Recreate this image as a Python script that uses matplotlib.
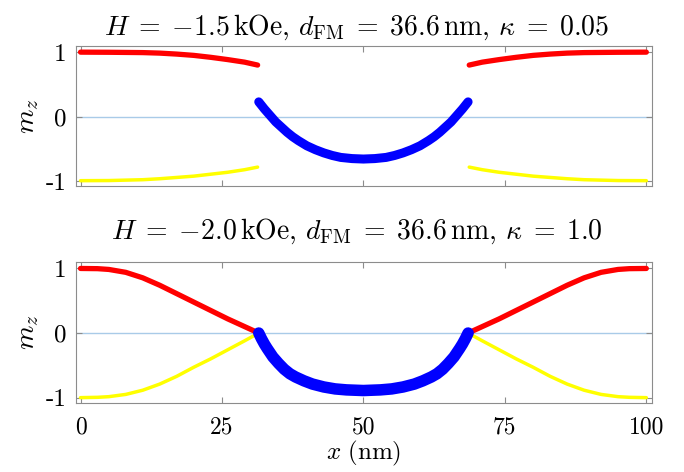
import matplotlib
matplotlib.use("Agg")
import matplotlib.pyplot as plt

plt.rcParams['mathtext.fontset'] = 'cm'
plt.rcParams['font.family'] = 'serif'
plt.rcParams['font.serif'] = ['cmr10', 'Liberation Serif', 'DejaVu Serif']
plt.rcParams['axes.unicode_minus'] = False

## Panel 1: H = -1.5 kOe, kappa = 0.05
x1_left = [0, 5, 11, 14, 17, 20, 23, 26, 29, 31.3]
red1_left = [1.00, 0.998, 0.993, 0.985, 0.97, 0.95, 0.92, 0.885, 0.845, 0.80]
yel1_left = [-0.99, -0.988, -0.975, -0.96, -0.94, -0.92, -0.89, -0.86, -0.82, -0.78]
x1_right = [68.7, 71, 74, 77, 80, 83, 86, 89, 95, 100]
red1_right = [0.80, 0.845, 0.885, 0.92, 0.95, 0.97, 0.985, 0.993, 0.998, 1.00]
yel1_right = [-0.78, -0.82, -0.86, -0.89, -0.92, -0.94, -0.96, -0.975, -0.988, -0.99]
x1_mid = [31.5, 32.5, 33.5, 34.5, 35.5, 36.5, 37.5, 38.5, 40, 41.5, 43, 44.5, 46, 48, 50,
          52, 54, 55.5, 57, 58.5, 60, 61.5, 62.5, 63.5, 64.5, 65.5, 66.5, 67.5, 68.5]
blue1_mid = [0.23, 0.12, 0.02, -0.08, -0.16, -0.24, -0.31, -0.37, -0.45, -0.51, -0.56,
             -0.60, -0.63, -0.648, -0.655,
             -0.648, -0.63, -0.60, -0.56, -0.51, -0.45, -0.37, -0.31, -0.24, -0.16,
             -0.08, 0.02, 0.12, 0.23]

## Panel 2: H = -2.0 kOe, kappa = 1.0
x2_left = [0, 3, 5, 8, 11, 14, 17, 20, 23, 26, 29, 31.5]
red2_left = [1.00, 0.997, 0.985, 0.94, 0.855, 0.74, 0.61, 0.48, 0.35, 0.22, 0.10, 0.0]
yel2_left = [-1.00, -0.995, -0.985, -0.95, -0.885, -0.79, -0.67, -0.53, -0.40, -0.26, -0.12, 0.0]
x2_right = [68.5, 71, 74, 77, 80, 83, 86, 89, 92, 95, 97, 100]
red2_right = [0.0, 0.10, 0.22, 0.35, 0.48, 0.61, 0.74, 0.855, 0.94, 0.985, 0.997, 1.00]
yel2_right = [0.0, -0.12, -0.26, -0.40, -0.53, -0.67, -0.79, -0.885, -0.95, -0.985, -0.995, -1.00]
x2_mid = [31.5, 32, 32.5, 33, 34, 35, 36, 37, 38, 39.5, 41, 43, 45, 47, 50,
          53, 55, 57, 59, 60.5, 62, 63, 64, 65, 66, 67, 67.5, 68, 68.5]
blue2_mid = [0.0, -0.09, -0.17, -0.24, -0.37, -0.47, -0.56, -0.63, -0.68, -0.74, -0.79,
             -0.835, -0.865, -0.88, -0.89,
             -0.88, -0.865, -0.835, -0.79, -0.74, -0.68, -0.63, -0.56, -0.47, -0.37,
             -0.24, -0.17, -0.09, 0.0]

titles = [r'$H\;=\;{-}1.5\,\mathrm{kOe},\,d_{\mathrm{FM}}\;=\;36.6\,\mathrm{nm},\,\kappa\;=\;0.05$',
          r'$H\;=\;{-}2.0\,\mathrm{kOe},\,d_{\mathrm{FM}}\;=\;36.6\,\mathrm{nm},\,\kappa\;=\;1.0$']
x_ticks = [0, 25, 50, 75, 100]
y_ticks = [-1, 0, 1]

panels = [
    (x1_left, red1_left, yel1_left, x1_right, red1_right, yel1_right, x1_mid, blue1_mid),
    (x2_left, red2_left, yel2_left, x2_right, red2_right, yel2_right, x2_mid, blue2_mid),
]
blue_width = [6.5, 8.3]
title_y = [0.926, 0.4936]

fig = plt.figure(figsize=(6.84, 4.72), dpi=100)
ax_top = fig.add_axes([0.1111, 0.6049, 0.8421, 0.2983])
ax_bot = fig.add_axes([0.1111, 0.1466, 0.8421, 0.2983])

edge = '#8c8c8c'
for i, (ax, data, title) in enumerate(zip([ax_top, ax_bot], panels, titles)):
    xl, rl, yl, xr, rr, yr, xm, bm = data
    ax.axhline(0, color='#a9cbe8', lw=1.0, zorder=1)
    ax.plot(xl, yl, color='#ffff00', lw=2.5, solid_capstyle='round', zorder=2)
    ax.plot(xr, yr, color='#ffff00', lw=2.5, solid_capstyle='round', zorder=2)
    ax.plot(xl, rl, color='#ff0000', lw=3.8, solid_capstyle='round', zorder=3)
    ax.plot(xr, rr, color='#ff0000', lw=3.8, solid_capstyle='round', zorder=3)
    ax.plot(xm, bm, color='#0000ff', lw=blue_width[i], solid_capstyle='round',
            solid_joinstyle='round', zorder=4)
    ax.set_xlim(-0.8, 101.0)
    ax.set_ylim(-1.08, 1.1)
    ax.set_xticks(x_ticks)
    ax.set_yticks(y_ticks)
    ax.set_yticklabels([str(v) for v in y_ticks], fontsize=18)
    ax.tick_params(direction='in', length=4, color=edge, top=True, right=True,
                   pad=7)
    for s in ax.spines.values():
        s.set_color(edge)
        s.set_linewidth(0.8)
    ax.set_ylabel(r'$m_z$', fontsize=20, labelpad=3)
    fig.text(0.522, title_y[i], title, fontsize=20, ha='center', va='baseline')

ax_top.set_xticklabels([])
ax_bot.set_xticklabels([str(v) for v in x_ticks], fontsize=17)
ax_bot.tick_params(axis='x', pad=10)
ax_bot.set_xlabel(r'$x\ (\mathrm{nm})$', fontsize=18, labelpad=0)

fig.savefig('out.png', dpi=100)
